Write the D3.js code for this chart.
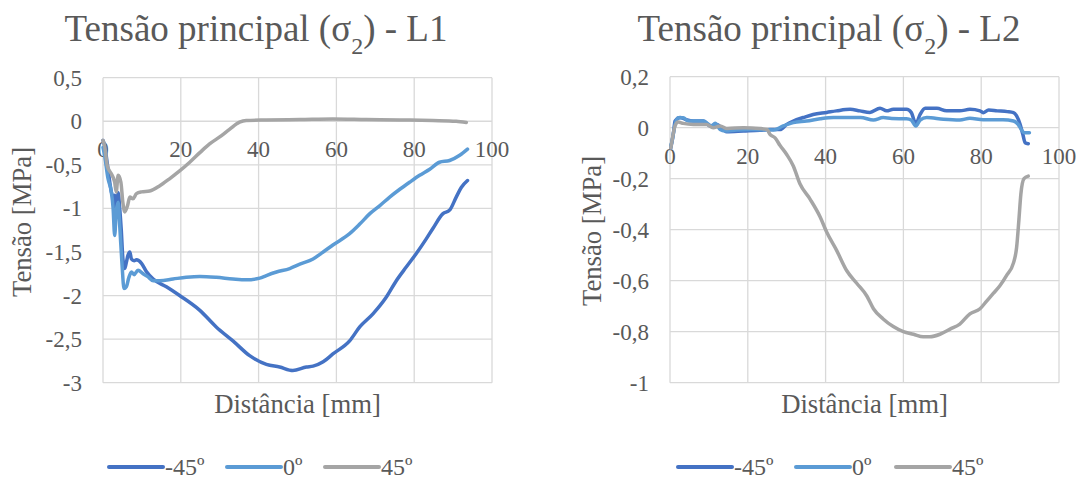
<!DOCTYPE html>
<html>
<head>
<meta charset="utf-8">
<script src="https://cdn.jsdelivr.net/npm/d3@7"></script>
<style>
  body { margin: 0; background: #fff; }
  svg { display: block; }
  text { font-family: "Liberation Serif", "Times New Roman", serif; fill: #595959; }
</style>
</head>
<body>
<svg id="chart"></svg>
<script>
// series names + colours (legend)
let seriesNames = ["-45º", "0º", "45º"]
let seriesColors = ["#4472C4", "#5B9BD5", "#A5A5A5"]

// x ticks shared by both charts
let xTicks = [0, 20, 40, 60, 80, 100]

// L1 ticks
let yTicksL1 = [0.5, 0, -0.5, -1, -1.5, -2, -2.5, -3]
// L2 ticks
let yTicksL2 = [0.2, 0, -0.2, -0.4, -0.6, -0.8, -1]

// L1 data [distancia, tensao]
let l1m45 = [[0,-0.22],[0.4,-0.28],[1.3,-0.55],[2.1,-0.8],[2.6,-0.87],[3.0,-0.85],[3.4,-1.05],[3.9,-0.82],[4.3,-1.0],[4.7,-1.25],[5.1,-1.57],[5.6,-1.69],[6.0,-1.62],[6.4,-1.54],[6.9,-1.5],[7.3,-1.58],[8.0,-1.6],[8.6,-1.59],[9.9,-1.63],[11.1,-1.72],[12.9,-1.81],[16.3,-1.9],[19.7,-2.0],[24.9,-2.17],[29.1,-2.36],[33.4,-2.52],[37.7,-2.69],[42,-2.79],[45.4,-2.82],[48.8,-2.86],[52.3,-2.82],[54,-2.81],[56.6,-2.76],[59.1,-2.67],[63.4,-2.52],[66,-2.36],[69.4,-2.21],[72.8,-2.02],[75.4,-1.83],[78,-1.67],[80.5,-1.52],[83.1,-1.35],[84.8,-1.23],[87.4,-1.06],[89.1,-1.02],[90.8,-0.87],[92.1,-0.76],[93.7,-0.68]]
let l1z = [[0,-0.3],[0.4,-0.39],[1.3,-0.66],[2.1,-0.8],[2.6,-1.0],[3.0,-1.31],[3.4,-1.04],[3.9,-0.93],[4.3,-1.2],[4.9,-1.65],[5.4,-1.92],[6.0,-1.9],[6.6,-1.8],[7.3,-1.73],[8.0,-1.76],[9.0,-1.71],[10.3,-1.75],[11.4,-1.78],[12.9,-1.83],[14.6,-1.83],[18,-1.81],[21.4,-1.79],[24.9,-1.78],[29.1,-1.79],[33.4,-1.81],[36.8,-1.82],[40.3,-1.8],[42,-1.77],[44.6,-1.73],[48,-1.69],[50.6,-1.64],[54,-1.58],[56.6,-1.5],[59.1,-1.42],[63.4,-1.29],[66,-1.18],[68.6,-1.06],[71.1,-0.97],[73.7,-0.87],[76.3,-0.78],[78.8,-0.7],[81.4,-0.62],[84,-0.55],[86.5,-0.47],[89.1,-0.45],[91.7,-0.39],[93.7,-0.32]]
let l1p45 = [[0,-0.22],[0.4,-0.28],[1.1,-0.51],[2.1,-0.6],[3.0,-0.7],[3.4,-0.81],[3.9,-0.62],[4.6,-0.7],[5.1,-0.93],[5.6,-1.04],[6.3,-0.97],[6.9,-0.87],[7.7,-0.89],[8.6,-0.83],[9.9,-0.81],[12,-0.8],[14.6,-0.74],[17.1,-0.66],[19.7,-0.57],[22.3,-0.47],[24.9,-0.36],[27.4,-0.26],[30,-0.18],[32.6,-0.09],[35.1,-0.01],[36.8,0.01],[42,0.015],[50.6,0.02],[59.1,0.027],[67.7,0.02],[76.3,0.015],[84.8,0.008],[90.8,0],[93.4,-0.015]]

// L2 data
let l2m45 = [[0.2,-0.08],[0.9,-0.02],[1.3,0.026],[2.6,0.04],[3.9,0.033],[6,0.026],[8.6,0.026],[10.3,0.007],[12,0.013],[13.7,-0.007],[14.6,-0.016],[18.9,-0.013],[23.1,-0.01],[25.7,-0.007],[28.3,-0.007],[30,0.013],[31.7,0.026],[34.3,0.04],[36.8,0.052],[40.3,0.06],[42.8,0.066],[46.3,0.072],[48.8,0.066],[51.4,0.06],[54,0.076],[55.7,0.066],[57.4,0.072],[60.8,0.072],[62,0.06],[63.2,0.016],[64.3,0.052],[65.6,0.076],[68.6,0.076],[71.1,0.066],[74.5,0.066],[77.1,0.072],[79.7,0.066],[80.5,0.059],[81.9,0.069],[84.1,0.066],[86.7,0.063],[88.3,0.059],[89.1,0.046],[90,0.013],[90.7,-0.026],[91.3,-0.059],[92.1,-0.063]]
let l2z = [[0.2,-0.07],[0.43,-0.059],[1.3,0.013],[2.1,0.039],[3.4,0.039],[4.7,0.026],[8.6,0.026],[9.9,0.013],[10.7,0.007],[11.6,0.017],[12.9,-0.007],[14.1,-0.013],[17.1,-0.009],[21,-0.007],[24,-0.008],[26.6,-0.009],[29.1,0.007],[31.7,0.02],[35.1,0.026],[38.6,0.035],[42,0.04],[45.4,0.04],[49,0.04],[52.3,0.03],[54.8,0.04],[57,0.036],[60.8,0.035],[62,0.03],[63.2,0.007],[64.3,0.03],[66,0.04],[70.3,0.033],[74.5,0.03],[77.1,0.037],[80.5,0.031],[85.6,0.031],[88.3,0.026],[89.5,0.013],[90.3,-0.007],[91.1,-0.02],[92.4,-0.02]]
let l2p45 = [[0.2,-0.08],[0.43,-0.059],[1.3,0.007],[2.1,0.022],[3.4,0.017],[6,0.013],[9.4,0.013],[11.1,0],[12.9,0.007],[14.6,-0.003],[18.9,0],[23.1,-0.003],[24.9,-0.007],[25.7,-0.026],[27,-0.04],[28.3,-0.07],[30,-0.105],[31.7,-0.15],[33.4,-0.22],[36,-0.28],[38.6,-0.35],[40.3,-0.41],[42.8,-0.48],[45.4,-0.56],[48,-0.61],[50.6,-0.66],[52.3,-0.71],[54.8,-0.75],[57.4,-0.78],[60,-0.8],[62.6,-0.81],[65.1,-0.82],[66.8,-0.82],[69.4,-0.81],[72,-0.79],[74.5,-0.77],[77.1,-0.73],[79.7,-0.71],[81.4,-0.68],[83.1,-0.65],[84.8,-0.62],[86.5,-0.58],[88.3,-0.53],[89.1,-0.47],[89.7,-0.36],[90.2,-0.26],[91,-0.2],[92.1,-0.19]]

let width = 1083
let height = 483

let svg = d3.select("#chart").attr("width", width).attr("height", height)

let fmt = (v) => String(+v.toFixed(1)).replace(".", ",")

let drawChart = (opt) => {
    let xScale = d3.scaleLinear().domain([0, 100]).range([opt.left, opt.right])
    let yScale = d3.scaleLinear().domain([opt.yMin, opt.yMax]).range([opt.bottom, opt.top])

    let g = svg.append("g")

    // gridlines
    g.selectAll(".hgrid").data(opt.yTicks).enter().append("line")
        .attr("x1", opt.left).attr("x2", opt.right)
        .attr("y1", d => yScale(d)).attr("y2", d => yScale(d))
        .attr("stroke", "#D9D9D9").attr("stroke-width", 1.3)
    g.selectAll(".vgrid").data(xTicks).enter().append("line")
        .attr("x1", d => xScale(d)).attr("x2", d => xScale(d))
        .attr("y1", opt.top).attr("y2", opt.bottom)
        .attr("stroke", "#D9D9D9").attr("stroke-width", 1.3)

    // tick labels
    g.selectAll(".ylab").data(opt.yTicks).enter().append("text")
        .attr("x", opt.left - 21).attr("y", d => yScale(d))
        .attr("dy", "0.35em").attr("text-anchor", "end")
        .style("font-size", "23px")
        .text(d => fmt(d))
    g.selectAll(".xlab").data(xTicks).enter().append("text")
        .attr("x", d => xScale(d)).attr("y", yScale(0) + 28)
        .attr("dy", "0.35em").attr("text-anchor", "middle")
        .style("font-size", "23px")
        .text(d => d)

    // lines
    let line = d3.line()
        .x(d => xScale(d[0]))
        .y(d => yScale(d[1]))
        .curve(d3.curveMonotoneX)
    opt.series.forEach((s, i) => {
        g.append("path")
            .datum(s)
            .attr("d", line)
            .attr("fill", "none")
            .attr("stroke", seriesColors[i])
            .attr("stroke-width", 3.5)
            .attr("stroke-linejoin", "round")
            .attr("stroke-linecap", "round")
    })

    // title
    let title = g.append("text")
        .attr("x", opt.titleX).attr("y", 41)
        .attr("text-anchor", "middle")
        .style("font-size", "37px")
    title.append("tspan").text("Tensão principal (σ")
    title.append("tspan").attr("baseline-shift", "sub").style("font-size", "24px").text("2")
    title.append("tspan").text(") - " + opt.name)

    // axis titles
    g.append("text")
        .attr("x", (opt.left + opt.right) / 2).attr("y", 413)
        .attr("text-anchor", "middle")
        .style("font-size", "26.7px")
        .text("Distância [mm]")
    g.append("text")
        .attr("transform", "translate(" + (opt.yTitleX + 9) + "," + opt.yTitleY + ") rotate(-90)")
        .attr("text-anchor", "middle")
        .style("font-size", "26.7px")
        .text("Tensão [MPa]")

    // legend
    opt.legendX.forEach((lx, i) => {
        g.append("line")
            .attr("x1", lx).attr("x2", lx + 54)
            .attr("y1", 467).attr("y2", 467)
            .attr("stroke", seriesColors[i]).attr("stroke-width", 4)
            .attr("stroke-linecap", "round")
        g.append("text")
            .attr("x", lx + 56).attr("y", 467).attr("dy", "0.35em")
            .style("font-size", "24px")
            .text(seriesNames[i])
    })
}

drawChart({
    name: "L1", left: 103, right: 492, top: 77.7, bottom: 382.7,
    yMin: -3, yMax: 0.5, yTicks: yTicksL1,
    series: [l1m45, l1z, l1p45],
    titleX: 256, yTitleX: 22, yTitleY: 222,
    legendX: [109, 227, 325]
})

drawChart({
    name: "L2", left: 670, right: 1059, top: 76.7, bottom: 382.7,
    yMin: -1, yMax: 0.2, yTicks: yTicksL2,
    series: [l2m45, l2z, l2p45],
    titleX: 829, yTitleX: 592, yTitleY: 231,
    legendX: [678, 796, 896]
})
</script>
</body>
</html>
